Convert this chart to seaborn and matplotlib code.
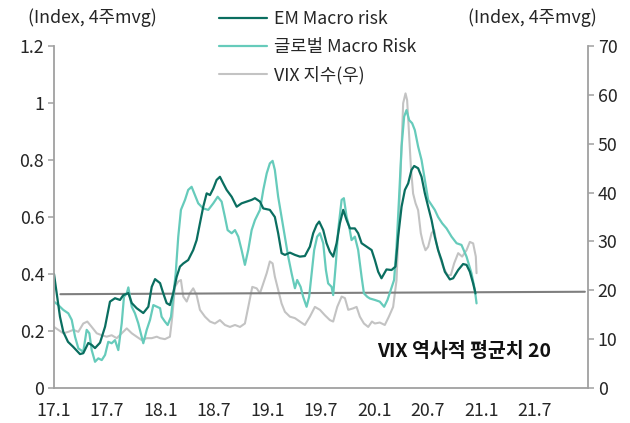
import matplotlib
matplotlib.use("Agg")
import matplotlib.pyplot as plt
import matplotlib.dates as mdates
from matplotlib.ticker import FuncFormatter, MultipleLocator
from matplotlib.lines import Line2D
import seaborn as sns
import pandas as pd

# ---- data (time as decimal year) ----
em_t = [2017.000, 2017.025, 2017.056, 2017.087, 2017.131, 2017.178, 2017.243, 2017.274, 2017.321, 2017.353,
        2017.384, 2017.431, 2017.478, 2017.524, 2017.571, 2017.618, 2017.649, 2017.696, 2017.728, 2017.774,
        2017.836, 2017.883, 2017.915, 2017.946, 2017.993, 2018.023, 2018.055, 2018.086, 2018.117, 2018.149,
        2018.180, 2018.211, 2018.257, 2018.304, 2018.336, 2018.367, 2018.398, 2018.430, 2018.461, 2018.492,
        2018.523, 2018.554, 2018.585, 2018.617, 2018.664, 2018.711, 2018.757, 2018.804, 2018.851, 2018.882,
        2018.929, 2018.960, 2019.022, 2019.069, 2019.100, 2019.132, 2019.163, 2019.210, 2019.257, 2019.303,
        2019.350, 2019.397, 2019.428, 2019.460, 2019.484, 2019.522, 2019.553, 2019.584, 2019.615, 2019.647,
        2019.678, 2019.709, 2019.741, 2019.772, 2019.818, 2019.849, 2019.881, 2019.928, 2019.975, 2020.006,
        2020.037, 2020.068, 2020.115, 2020.162, 2020.199, 2020.224, 2020.256, 2020.287, 2020.318, 2020.349,
        2020.374, 2020.411, 2020.443, 2020.474, 2020.505, 2020.537, 2020.567, 2020.598, 2020.630, 2020.661,
        2020.708, 2020.739, 2020.786, 2020.832, 2020.864, 2020.895, 2020.926, 2020.948]
em_v = [0.400, 0.333, 0.250, 0.197, 0.162, 0.145, 0.119, 0.122, 0.158, 0.151,
        0.140, 0.159, 0.215, 0.303, 0.315, 0.309, 0.326, 0.333, 0.298, 0.280,
        0.263, 0.285, 0.355, 0.382, 0.368, 0.333, 0.298, 0.291, 0.333, 0.390,
        0.426, 0.437, 0.449, 0.484, 0.519, 0.578, 0.636, 0.683, 0.677, 0.700,
        0.730, 0.741, 0.718, 0.695, 0.671, 0.636, 0.648, 0.654, 0.660, 0.666,
        0.654, 0.630, 0.625, 0.600, 0.543, 0.473, 0.467, 0.475, 0.467, 0.461,
        0.463, 0.496, 0.543, 0.572, 0.584, 0.554, 0.508, 0.478, 0.461, 0.508,
        0.578, 0.625, 0.589, 0.560, 0.560, 0.543, 0.508, 0.496, 0.484, 0.449,
        0.408, 0.385, 0.416, 0.414, 0.426, 0.531, 0.636, 0.695, 0.718, 0.765,
        0.779, 0.771, 0.741, 0.683, 0.636, 0.589, 0.531, 0.484, 0.449, 0.408,
        0.381, 0.385, 0.414, 0.435, 0.432, 0.408, 0.367, 0.332]

gl_t = [2017.000, 2017.040, 2017.087, 2017.134, 2017.166, 2017.197, 2017.228, 2017.274, 2017.306, 2017.331,
        2017.353, 2017.384, 2017.415, 2017.447, 2017.478, 2017.508, 2017.540, 2017.571, 2017.602, 2017.634,
        2017.655, 2017.681, 2017.696, 2017.728, 2017.758, 2017.789, 2017.836, 2017.868, 2017.899, 2017.930,
        2017.993, 2018.008, 2018.039, 2018.065, 2018.096, 2018.117, 2018.140, 2018.164, 2018.189, 2018.227,
        2018.257, 2018.289, 2018.320, 2018.351, 2018.398, 2018.445, 2018.492, 2018.533, 2018.570, 2018.601,
        2018.626, 2018.664, 2018.695, 2018.726, 2018.757, 2018.788, 2018.819, 2018.851, 2018.882, 2018.929,
        2018.960, 2018.992, 2019.022, 2019.048, 2019.069, 2019.100, 2019.132, 2019.163, 2019.194, 2019.226,
        2019.257, 2019.278, 2019.310, 2019.334, 2019.366, 2019.390, 2019.413, 2019.437, 2019.465, 2019.491,
        2019.522, 2019.547, 2019.568, 2019.600, 2019.615, 2019.640, 2019.662, 2019.694, 2019.715, 2019.741,
        2019.765, 2019.787, 2019.818, 2019.849, 2019.881, 2019.903, 2019.934, 2019.959, 2020.006, 2020.052,
        2020.093, 2020.124, 2020.155, 2020.186, 2020.209, 2020.233, 2020.256, 2020.280, 2020.302, 2020.327,
        2020.355, 2020.380, 2020.411, 2020.443, 2020.474, 2020.505, 2020.537, 2020.567, 2020.598, 2020.636,
        2020.677, 2020.724, 2020.771, 2020.817, 2020.864, 2020.911, 2020.942, 2020.958]
gl_v = [0.303, 0.291, 0.274, 0.262, 0.239, 0.180, 0.139, 0.127, 0.204, 0.192,
        0.133, 0.092, 0.104, 0.098, 0.116, 0.162, 0.157, 0.168, 0.133, 0.227,
        0.320, 0.332, 0.353, 0.285, 0.262, 0.227, 0.157, 0.204, 0.239, 0.291,
        0.280, 0.250, 0.233, 0.221, 0.250, 0.320, 0.402, 0.531, 0.625, 0.660,
        0.695, 0.706, 0.677, 0.648, 0.630, 0.625, 0.648, 0.671, 0.654, 0.600,
        0.554, 0.543, 0.554, 0.531, 0.484, 0.432, 0.484, 0.554, 0.589, 0.625,
        0.695, 0.753, 0.788, 0.797, 0.765, 0.671, 0.600, 0.531, 0.461, 0.402,
        0.350, 0.379, 0.355, 0.320, 0.285, 0.320, 0.402, 0.484, 0.531, 0.543,
        0.508, 0.414, 0.367, 0.355, 0.326, 0.437, 0.554, 0.660, 0.666, 0.600,
        0.566, 0.519, 0.531, 0.484, 0.390, 0.332, 0.320, 0.314, 0.309, 0.303,
        0.285, 0.309, 0.344, 0.379, 0.496, 0.671, 0.847, 0.952, 0.975, 0.940,
        0.929, 0.905, 0.847, 0.800, 0.730, 0.660, 0.642, 0.625, 0.600, 0.578,
        0.560, 0.531, 0.508, 0.502, 0.461, 0.402, 0.344, 0.297]

vix_t = [2017.000, 2017.040, 2017.087, 2017.134, 2017.181, 2017.228, 2017.274, 2017.312, 2017.353, 2017.400,
         2017.447, 2017.493, 2017.540, 2017.587, 2017.634, 2017.681, 2017.728, 2017.774, 2017.821, 2017.868,
         2017.915, 2017.962, 2017.993, 2018.039, 2018.086, 2018.108, 2018.133, 2018.164, 2018.189, 2018.211,
         2018.243, 2018.273, 2018.304, 2018.336, 2018.367, 2018.414, 2018.461, 2018.507, 2018.554, 2018.601,
         2018.648, 2018.695, 2018.742, 2018.788, 2018.826, 2018.857, 2018.898, 2018.929, 2018.960, 2018.992,
         2019.022, 2019.048, 2019.069, 2019.100, 2019.132, 2019.163, 2019.210, 2019.257, 2019.303, 2019.350,
         2019.397, 2019.444, 2019.491, 2019.537, 2019.584, 2019.615, 2019.653, 2019.694, 2019.725, 2019.756,
         2019.802, 2019.834, 2019.865, 2019.903, 2019.943, 2019.978, 2020.006, 2020.052, 2020.099, 2020.137,
         2020.177, 2020.209, 2020.233, 2020.256, 2020.271, 2020.293, 2020.308, 2020.324, 2020.343, 2020.364,
         2020.387, 2020.411, 2020.436, 2020.458, 2020.480, 2020.505, 2020.537, 2020.561, 2020.583, 2020.614,
         2020.645, 2020.686, 2020.717, 2020.748, 2020.786, 2020.823, 2020.864, 2020.895, 2020.926, 2020.951,
         2020.958]
vix_v = [12.5, 11.9, 11.2, 11.5, 11.9, 11.5, 13.2, 13.6, 12.5, 11.2,
         10.8, 10.5, 10.8, 10.2, 11.2, 12.2, 11.2, 10.5, 9.8, 10.2,
         10.2, 10.5, 10.2, 10.0, 10.5, 14.6, 20.7, 21.8, 22.1, 18.7,
         17.7, 19.4, 20.4, 19.0, 16.0, 14.6, 13.6, 13.2, 13.9, 12.9,
         12.5, 12.9, 12.5, 13.2, 17.3, 20.7, 20.4, 19.4, 21.4, 23.5,
         25.9, 25.5, 22.8, 20.1, 17.3, 15.6, 14.6, 14.3, 13.6, 12.9,
         14.6, 16.6, 16.0, 14.9, 13.9, 13.6, 16.6, 18.7, 18.4, 16.0,
         16.3, 16.6, 14.6, 13.2, 12.5, 13.6, 13.2, 13.4, 12.9, 14.6,
         16.6, 22.1, 35.8, 49.4, 58.3, 60.3, 58.9, 52.8, 45.3, 39.8,
         37.8, 36.4, 31.7, 29.6, 28.2, 28.9, 31.7, 32.3, 29.6, 26.9,
         24.8, 23.1, 23.1, 25.5, 27.6, 26.9, 28.2, 29.9, 29.6, 26.9,
         23.5]

avg_t = [2017.06, 2021.97]
avg_v = [19.2, 19.7]

labels = ["EM Macro risk", "글로벌 Macro Risk", "VIX 지수(우)"]
left_unit = "(Index, 4주mvg)"
right_unit = "(Index, 4주mvg)"
avg_label = "VIX 역사적 평균치 20"
tick_dates = ["2017-01-01", "2017-07-01", "2018-01-01", "2018-07-01", "2019-01-01", "2019-07-01",
              "2020-01-01", "2020-07-01", "2021-01-01", "2021-07-01", "2022-01-01"]
tick_labels = ["17.1", "17.7", "18.1", "18.7", "19.1", "19.7", "20.1", "20.7", "21.1", "21.7", ""]


def to_dates(years):
    out = []
    for y in years:
        base = int(y)
        out.append(pd.Timestamp(base, 1, 1) + pd.Timedelta(days=(y - base) * 365.25))
    return pd.to_datetime(out)


em = pd.DataFrame({"date": to_dates(em_t), "value": em_v})
gl = pd.DataFrame({"date": to_dates(gl_t), "value": gl_v})
vix = pd.DataFrame({"date": to_dates(vix_t), "value": vix_v})
avg = pd.DataFrame({"date": to_dates(avg_t), "value": avg_v})

sns.set_style("white")
plt.rcParams["font.family"] = ["Noto Sans CJK KR", "DejaVu Sans"]

C_EM = "#0a6e60"
C_GL = "#66cbbb"
C_VIX = "#c3c3c3"
C_AVG = "#7f7f7f"
C_TXT = "#262626"
C_SP = "#a0a0a0"
FS = 12.8

fig = plt.figure(figsize=(6.3, 4.23), dpi=100)
ax = fig.add_axes([54 / 630, 1 - 388 / 423, (588 - 54) / 630, (388 - 46) / 423])
ax2 = ax.twinx()

sns.lineplot(data=vix, x="date", y="value", ax=ax2, color=C_VIX, linewidth=1.5)
sns.lineplot(data=avg, x="date", y="value", ax=ax2, color=C_AVG, linewidth=1.5)
sns.lineplot(data=gl, x="date", y="value", ax=ax, color=C_GL, linewidth=1.6)
sns.lineplot(data=em, x="date", y="value", ax=ax, color=C_EM, linewidth=1.6)

ax.set_zorder(ax2.get_zorder() + 1)
ax.patch.set_visible(False)

ax.set_xlim(pd.Timestamp("2017-01-01"), pd.Timestamp("2022-01-01"))
ax.set_ylim(0, 1.2)
ax2.set_ylim(0, 70)
ax.yaxis.set_major_locator(MultipleLocator(0.2))
ax.yaxis.set_major_formatter(FuncFormatter(lambda v, p: f"{round(v, 1):g}"))
ax2.yaxis.set_major_locator(MultipleLocator(10))
ax.set_xticks(pd.to_datetime(tick_dates))
ax.set_xticklabels(tick_labels)

for a in (ax, ax2):
    a.set_xlabel("")
    a.set_ylabel("")
    a.spines["top"].set_visible(False)
    for s in ("left", "right", "bottom"):
        a.spines[s].set_color(C_SP)
        a.spines[s].set_linewidth(1.3)
    a.tick_params(direction="out", length=4, width=1.1, color=C_SP, labelcolor=C_TXT, labelsize=FS, pad=3)
ax.tick_params(axis="x", pad=6)
ax.spines["right"].set_visible(False)
ax2.spines["left"].set_visible(False)
ax2.spines["bottom"].set_visible(False)

ax2.text(pd.Timestamp("2020-01-10"), 7.4, avg_label, ha="left", va="center", fontsize=14,
         fontweight="bold", color="#111111")

fig.text(28 / 630, 1 - 18 / 423, left_unit, ha="left", va="center", fontsize=FS, color=C_TXT)
fig.text(468 / 630, 1 - 18 / 423, right_unit, ha="left", va="center", fontsize=FS, color=C_TXT)

handles = [Line2D([], [], color=C_EM, lw=1.6), Line2D([], [], color=C_GL, lw=1.6), Line2D([], [], color=C_VIX, lw=1.5)]
fig.legend(handles, labels, loc="upper left", bbox_to_anchor=(212 / 630, 1 - 3 / 423), frameon=False,
           fontsize=FS, handlelength=2.7, handletextpad=0.4, labelspacing=0.55, borderaxespad=0,
           labelcolor=C_TXT)

fig.savefig("out.png", dpi=100)
